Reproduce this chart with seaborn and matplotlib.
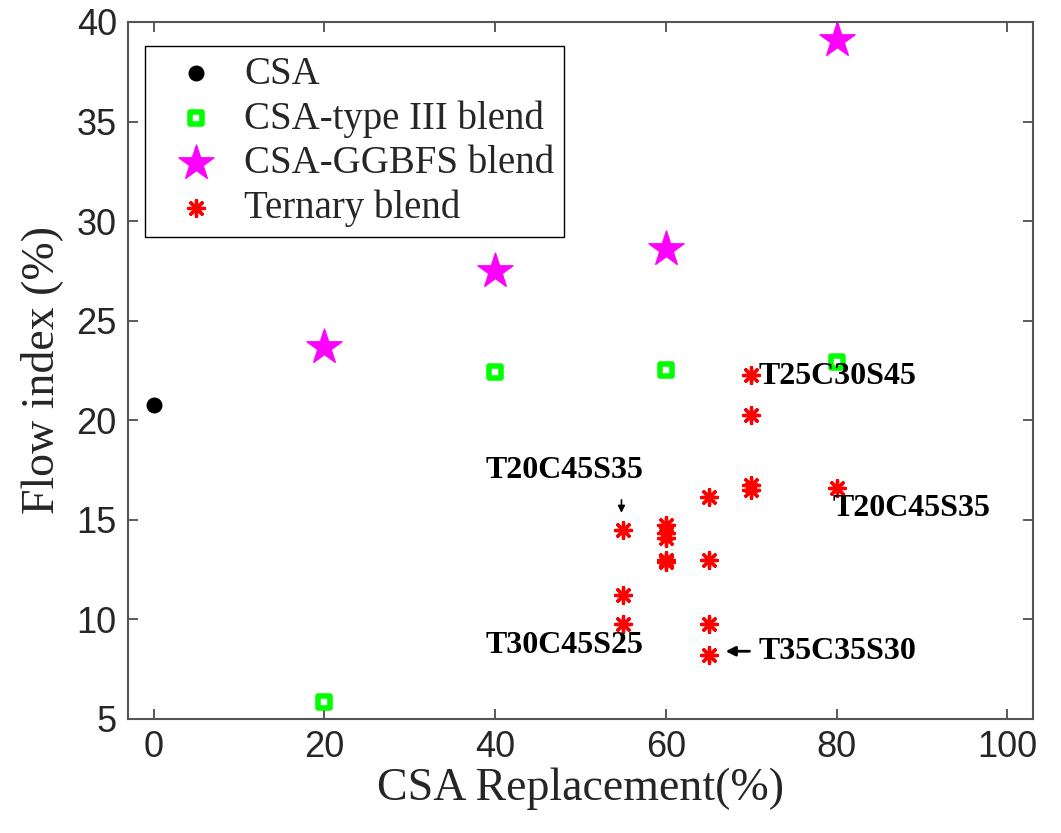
import matplotlib
matplotlib.use("Agg")
import matplotlib.pyplot as plt
import seaborn as sns

# ---- data ----
csa_x = [0]
csa_y = [20.75]
type3_x = [20, 40, 60, 80]
type3_y = [5.85, 22.4, 22.5, 22.95]
ggbfs_x = [20, 40, 60, 80]
ggbfs_y = [23.7, 27.5, 28.6, 39.1]
tern_x = [55, 55, 55, 60, 60, 60, 60, 60, 65, 65, 65, 65, 70, 70, 70, 70, 80]
tern_y = [14.5, 11.2, 9.75, 14.75, 14.35, 14.1, 13.0, 12.9,
          16.15, 13.0, 9.75, 8.2, 22.25, 20.25, 16.75, 16.5, 16.6]
series_names = ["CSA", "CSA-type III blend", "CSA-GGBFS blend", "Ternary blend"]
x_ticks = [0, 20, 40, 60, 80, 100]
y_ticks = [5, 10, 15, 20, 25, 30, 35, 40]
x_label = "CSA Replacement(%)"
y_label = "Flow index (%)"

sns.set_style("ticks")
plt.rcParams["font.family"] = ["Liberation Sans", "DejaVu Sans"]
plt.rcParams["xtick.direction"] = "in"
plt.rcParams["ytick.direction"] = "in"

fig = plt.figure(figsize=(10.61, 8.33), dpi=100)
ax = fig.add_axes([0.1206, 0.1369, 0.853, 0.8367])

serif = ["Liberation Serif", "DejaVu Serif"]

sns.scatterplot(x=csa_x, y=csa_y, ax=ax, marker="o", color="black",
                s=110, edgecolor="black", linewidth=1, label=series_names[0])
sns.scatterplot(x=type3_x, y=type3_y, ax=ax, marker="s", color="#00ff00",
                facecolor="white", edgecolor="#00ff00", linewidth=4,
                s=70, label=series_names[1])
sns.scatterplot(x=ggbfs_x, y=ggbfs_y, ax=ax, marker="*", color="#ff00ff",
                edgecolor="#ff00ff", linewidth=1, s=700, label=series_names[2])
sns.scatterplot(x=tern_x, y=tern_y, ax=ax, marker=(8, 2, 0), color="red",
                linewidth=2.4, s=130, label=series_names[3])

ax.set_xlim(-3, 103)
ax.set_ylim(5, 40)
ax.set_xticks(x_ticks)
ax.set_yticks(y_ticks)
ax.tick_params(axis="both", which="both", direction="in", top=True, right=True,
               labelsize=26, length=7, width=1.2, color="#404040",
               labelcolor="#262626", pad=8)
for sp in ax.spines.values():
    sp.set_color("#555555")
    sp.set_linewidth(1.5)

ax.set_xlabel(x_label, fontsize=33, family=serif, color="#262626", labelpad=2)
ax.set_ylabel(y_label, fontsize=33, family=serif, color="#262626", labelpad=10)

leg = ax.legend(loc="upper left", bbox_to_anchor=(0.0188, 0.9656),
                prop={"family": serif, "size": 28},
                frameon=True, fancybox=False, edgecolor="black", framealpha=1,
                borderpad=0.25, labelspacing=0.19, handletextpad=0.2,
                handlelength=2.1, borderaxespad=0)
leg.get_frame().set_linewidth(1.0)

ann_font = dict(family=serif, fontsize=23, fontweight="bold", color="black")
ax.text(70.8, 22.2, "T25C30S45", ha="left", va="center", **ann_font)
ax.text(79.5, 15.55, "T20C45S35", ha="left", va="center", **ann_font)
ax.text(38.9, 8.7, "T30C45S25", ha="left", va="center", **ann_font)
ax.text(70.8, 8.4, "T35C35S30", ha="left", va="center", **ann_font)
ax.text(38.9, 17.5, "T20C45S35", ha="left", va="center", **ann_font)
ax.annotate("", xy=(54.8, 15.35), xytext=(54.8, 16.0),
            arrowprops=dict(arrowstyle="-|>", color="black", lw=1.2,
                            mutation_scale=10, shrinkA=0, shrinkB=0))
ax.annotate("", xy=(67.0, 8.4), xytext=(69.8, 8.4),
            arrowprops=dict(arrowstyle="-|>", color="black", lw=2,
                            mutation_scale=14, shrinkA=0, shrinkB=0))

fig.savefig("out.png", dpi=100, facecolor="white")
